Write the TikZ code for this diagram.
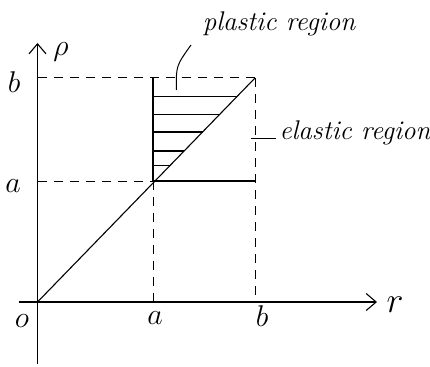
\documentclass[tikz,border=0pt]{standalone}
\usepackage{fix-cm}
\usetikzlibrary{arrows.meta,calc}
\begin{document}
\begin{tikzpicture}[x=1pt,y=-1pt,
  axis/.style={line width=1.2pt,-{Straight Barb[length=10pt,width=17pt,line width=1.1pt]}},
  solidline/.style={line width=1.1pt},
  dashline/.style={line width=1.0pt,dash pattern=on 9pt off 7pt},
  lbl/.style={font=\fontsize{30}{32}\selectfont, inner sep=0pt},
  txt/.style={font=\itshape\fontsize{27}{30}\selectfont, inner sep=0pt},
  leader/.style={line width=1.0pt}]
\useasboundingbox (0,0) rectangle (430,366);
% key points
\coordinate (O) at (37.5,302);
\coordinate (Aa) at (153,302);
\coordinate (Bb) at (255,302);
\coordinate (Ay) at (37.5,181);
\coordinate (By) at (37.5,78);
\coordinate (K) at (153,181);
\coordinate (T) at (255,78);
\coordinate (Tl) at (153,78);
\coordinate (Ke) at (255,181);
\coordinate (xs) at (19,302);
\coordinate (xe) at (377,302);
\coordinate (ys) at (37.5,364);
\coordinate (ye) at (37.5,43);
% axes
\draw[axis] (xs) -- (xe);
\draw[axis] (ys) -- (ye);
% dashed lines
\draw[dashline] (By) -- (T);
\draw[dashline] (T) -- (Bb);
\draw[dashline] (Ay) -- (K);
\draw[dashline] (Aa) -- (K);
% solid lines
\draw[solidline] (K) -- (Ke);
\draw[solidline] (K) -- (Tl);
\draw[solidline] (O) -- (T);
% hatching
\foreach \t [count=\i] in {0.9165,0.839,0.759,0.674,0.608}{
  \coordinate (h\i) at ($(O)!\t!(T)$);
  \draw[solidline] (h\i) -- (h\i -| K);
}
% labels
\node[lbl] (lo) at (22,321) {$o$};
\node[lbl] (la) at (155,318) {$a$};
\node[lbl] (lb) at (262,316) {$b$};
\node[lbl,font=\fontsize{36}{38}\selectfont] (lr) at (395,305) {$r$};
\node[lbl] (lrho) at (61,52) {$\rho$};
\node[lbl] (lay) at (13,186) {$a$};
\node[lbl] (lby) at (14,82) {$b$};
% region labels
\node[txt] (plastic) at (279,24) {plastic region};
\node[txt] (elastic) at (355,133) {elastic region};
\coordinate (pl1) at (176.5,90);
\coordinate (pl2) at (191,45);
\draw[leader] (pl1) .. controls (176,66) .. (pl2);
\coordinate (el1) at (251,139);
\draw[leader] (el1) -- ([xshift=-3pt]elastic.west |- el1);
\end{tikzpicture}
\end{document}
